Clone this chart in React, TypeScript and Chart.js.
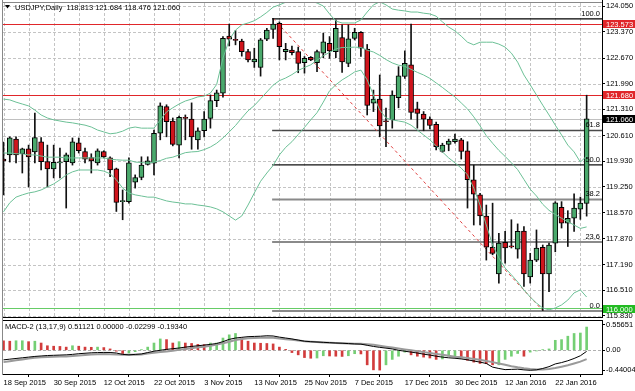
import React, { useEffect, useRef } from 'react';
import { Chart, registerables } from 'chart.js';
Chart.register(...registerables);

// ---------- DATA ----------
const dates = [
  '18 Sep 2015','21 Sep 2015','22 Sep 2015','23 Sep 2015','24 Sep 2015','25 Sep 2015','28 Sep 2015','29 Sep 2015','30 Sep 2015',
  '1 Oct 2015','2 Oct 2015','5 Oct 2015','6 Oct 2015','7 Oct 2015','8 Oct 2015','9 Oct 2015','12 Oct 2015',
  '13 Oct 2015','14 Oct 2015','15 Oct 2015','16 Oct 2015','19 Oct 2015','20 Oct 2015','21 Oct 2015','22 Oct 2015',
  '23 Oct 2015','26 Oct 2015','27 Oct 2015','28 Oct 2015','29 Oct 2015','30 Oct 2015','2 Nov 2015','3 Nov 2015',
  '4 Nov 2015','5 Nov 2015','6 Nov 2015','9 Nov 2015','10 Nov 2015','11 Nov 2015','12 Nov 2015','13 Nov 2015',
  '16 Nov 2015','17 Nov 2015','18 Nov 2015','19 Nov 2015','20 Nov 2015','23 Nov 2015','24 Nov 2015','25 Nov 2015',
  '26 Nov 2015','27 Nov 2015','30 Nov 2015','1 Dec 2015','2 Dec 2015','3 Dec 2015','4 Dec 2015','7 Dec 2015',
  '8 Dec 2015','9 Dec 2015','10 Dec 2015','11 Dec 2015','14 Dec 2015','15 Dec 2015','16 Dec 2015','17 Dec 2015',
  '18 Dec 2015','21 Dec 2015','22 Dec 2015','23 Dec 2015','24 Dec 2015','28 Dec 2015','29 Dec 2015','30 Dec 2015',
  '31 Dec 2015','4 Jan 2016','5 Jan 2016','6 Jan 2016','7 Jan 2016','8 Jan 2016','11 Jan 2016','12 Jan 2016',
  '13 Jan 2016','14 Jan 2016','15 Jan 2016','18 Jan 2016','19 Jan 2016','20 Jan 2016','21 Jan 2016','22 Jan 2016',
  '25 Jan 2016','26 Jan 2016','27 Jan 2016','28 Jan 2016','29 Jan 2016'
];

const opens = [
  119.99,120.10,120.52,120.13,120.26,120.18,120.45,119.92,119.73,119.89,
  119.92,119.89,120.42,120.19,120.03,119.89,120.19,120.02,119.73,118.86,
  118.86,119.38,119.50,119.85,119.88,120.68,121.38,121.00,120.36,121.09,
  121.05,120.50,120.74,121.07,121.54,121.74,123.25,123.15,123.12,122.84,
  122.57,122.42,123.17,123.43,123.59,122.84,122.88,122.84,122.55,122.69,
  122.55,122.80,123.06,122.84,123.21,122.53,123.19,123.35,122.91,121.47,
  121.58,120.99,121.03,121.62,122.18,122.49,121.32,121.18,121.05,120.91,
  120.19,120.38,120.45,120.50,120.21,119.44,119.04,118.48,117.65,116.94,
  117.78,117.67,117.60,118.08,116.86,117.31,117.65,116.94,117.76,118.71,
  118.29,118.42,118.66,118.813
];
const highs = [
  120.44,120.58,120.58,120.28,120.36,121.21,120.56,120.36,120.36,120.28,
  120.15,120.55,120.55,120.28,120.13,120.26,120.21,120.05,119.75,119.17,
  120.02,119.57,120.05,120.05,120.76,121.48,121.43,121.08,121.13,121.16,
  121.48,120.82,121.25,121.69,121.82,123.24,123.57,123.40,123.17,122.90,
  122.93,123.19,123.46,123.724,123.63,123.06,122.99,122.96,122.71,122.71,
  122.88,123.33,123.24,123.68,123.55,123.55,123.46,123.37,123.03,121.82,
  122.22,121.34,121.80,122.44,122.86,123.573,121.50,121.25,121.11,120.97,
  120.41,120.52,120.65,120.54,120.45,119.83,119.08,118.77,118.82,118.02,
  118.07,118.38,118.27,118.20,117.49,118.11,117.71,117.76,118.86,118.86,
  118.62,119.07,118.98,121.684
];
const lows = [
  119.04,119.91,119.89,119.62,119.25,119.89,119.70,119.25,119.49,119.49,
  118.69,119.83,120.15,119.89,119.62,119.83,120.02,119.52,118.60,118.38,
  118.82,119.22,119.44,119.83,119.57,120.50,120.58,120.34,120.02,120.50,
  120.25,120.25,120.58,120.81,121.38,121.63,122.99,123.02,122.72,122.57,
  122.42,122.19,123.13,123.19,122.62,122.62,122.75,122.28,122.27,122.60,
  122.31,122.68,122.66,122.68,122.29,122.44,123.15,122.71,121.16,121.25,
  120.58,120.32,120.81,121.35,122.13,121.05,120.81,120.74,120.79,120.23,
  120.17,120.21,120.41,119.99,118.69,118.24,118.24,117.31,117.45,116.70,
  117.23,117.63,117.36,116.61,116.70,117.27,115.97,116.47,117.53,118.16,
  117.67,118.07,118.39,118.476
];
const closes = [
  119.94,120.55,120.10,120.26,120.05,120.56,119.92,119.73,119.90,119.90,
  120.10,120.45,120.21,119.99,119.94,120.21,120.05,119.70,118.84,118.87,
  119.89,119.50,119.83,119.94,120.67,121.40,120.98,120.38,121.10,121.07,
  120.58,120.74,121.05,121.54,121.75,123.19,123.17,123.14,122.84,122.62,
  122.64,123.15,123.41,123.57,122.97,122.90,122.81,122.53,122.66,122.62,
  122.84,123.10,122.86,123.46,122.57,123.18,123.35,122.93,121.41,121.58,
  120.87,120.98,121.69,122.20,122.53,121.23,121.20,121.05,120.88,120.32,
  120.36,120.47,120.52,120.19,119.44,119.06,118.48,117.65,117.49,117.76,
  117.63,117.66,118.07,116.94,117.31,117.63,116.94,117.71,118.83,118.29,
  118.42,118.69,118.82,121.06
];

const bbUpper = [
  121.58,121.56,121.50,121.45,121.40,121.29,121.16,121.08,121.03,121.00,
  120.97,120.95,120.92,120.89,120.84,120.76,120.71,120.66,120.68,120.73,
  120.81,120.84,120.81,120.81,120.81,121.03,121.24,121.35,121.45,121.53,
  121.58,121.64,121.66,121.74,121.97,122.67,123.15,123.41,123.55,123.60,
  123.66,123.76,123.88,124.02,124.08,124.15,124.29,124.26,124.24,124.18,
  124.13,124.05,123.84,123.65,123.60,123.60,123.60,123.68,123.89,124.08,
  124.16,124.08,123.97,123.94,123.92,123.89,123.89,123.86,123.84,123.78,
  123.63,123.49,123.39,123.25,123.09,123.02,123.09,123.09,123.09,123.04,
  122.96,122.80,122.56,122.22,121.96,121.69,121.42,121.16,120.89,120.63,
  120.36,120.18,119.91,120.07
];
const bbMiddle = [
  120.15,120.15,120.13,120.13,120.10,120.10,120.07,120.04,120.04,120.04,
  120.02,120.02,120.02,120.02,120.02,120.02,120.02,119.99,119.97,119.96,
  119.96,119.91,119.90,119.88,119.91,119.95,120.01,120.04,120.10,120.16,
  120.18,120.19,120.24,120.31,120.41,120.55,120.71,120.88,121.08,121.27,
  121.41,121.59,121.77,121.95,122.07,122.14,122.23,122.34,122.42,122.49,
  122.61,122.73,122.82,122.91,122.95,122.95,122.96,122.95,122.88,122.83,
  122.74,122.63,122.54,122.48,122.45,122.37,122.29,122.22,122.13,122.01,
  121.89,121.76,121.64,121.48,121.32,121.11,120.87,120.61,120.41,120.22,
  120.06,119.89,119.71,119.45,119.19,119.01,118.79,118.63,118.52,118.42,
  118.33,118.24,118.15,118.19
];
const bbLower = [
  118.59,118.83,118.98,119.04,119.09,119.12,119.17,119.25,119.33,119.44,
  119.57,119.65,119.70,119.70,119.70,119.70,119.67,119.60,119.44,119.22,
  119.09,119.04,119.01,118.98,118.98,118.93,118.88,118.85,118.83,118.80,
  118.80,118.77,118.75,118.72,118.67,118.59,118.48,118.37,118.48,118.77,
  119.09,119.40,119.62,119.82,120.10,120.30,120.45,120.64,120.83,121.03,
  121.22,121.50,121.80,121.96,122.09,122.19,122.30,122.35,122.09,121.69,
  121.29,121.08,121.03,121.00,120.97,120.89,120.76,120.63,120.50,120.34,
  120.18,120.02,119.89,119.75,119.57,119.22,118.77,118.24,117.71,117.37,
  117.10,116.92,116.73,116.52,116.33,116.17,116.04,115.99,116.04,116.12,
  116.25,116.44,116.52,116.33
];

const macdMain = [
  -0.210,-0.195,-0.180,-0.165,-0.150,-0.135,-0.125,-0.115,-0.110,-0.105,
  -0.100,-0.090,-0.075,-0.065,-0.055,-0.050,-0.047,-0.048,-0.060,-0.090,
  -0.100,-0.090,-0.080,-0.050,-0.020,0.000,0.020,0.035,0.050,0.070,
  0.085,0.100,0.115,0.130,0.150,0.190,0.240,0.270,0.285,0.300,
  0.305,0.310,0.320,0.315,0.290,0.270,0.250,0.225,0.200,0.190,
  0.182,0.175,0.168,0.160,0.155,0.148,0.140,0.135,0.110,0.085,
  0.065,0.048,0.030,0.000,-0.020,-0.040,-0.060,-0.085,-0.105,-0.130,
  -0.150,-0.165,-0.175,-0.190,-0.210,-0.235,-0.260,-0.290,-0.370,-0.400,
  -0.425,-0.420,-0.415,-0.430,-0.440,-0.430,-0.400,-0.360,-0.300,-0.270,
  -0.230,-0.180,-0.120,-0.023
];
const macdSignal = [
  -0.260,-0.240,-0.220,-0.200,-0.180,-0.165,-0.155,-0.148,-0.142,-0.138,
  -0.134,-0.125,-0.115,-0.104,-0.094,-0.085,-0.080,-0.085,-0.095,-0.100,
  -0.100,-0.099,-0.090,-0.070,-0.055,-0.040,-0.026,-0.010,0.010,0.026,
  0.045,0.065,0.080,0.100,0.125,0.155,0.190,0.225,0.250,0.265,
  0.272,0.278,0.280,0.275,0.262,0.245,0.230,0.215,0.200,0.190,
  0.180,0.172,0.165,0.160,0.155,0.150,0.146,0.142,0.135,0.120,
  0.100,0.080,0.060,0.040,0.020,0.000,-0.020,-0.040,-0.060,-0.080,
  -0.100,-0.120,-0.140,-0.155,-0.170,-0.190,-0.210,-0.235,-0.260,-0.290,
  -0.320,-0.350,-0.375,-0.395,-0.410,-0.420,-0.420,-0.410,-0.390,-0.360,
  -0.330,-0.290,-0.250,-0.1934
];
const macdHist = [
  0.21,0.20,0.21,0.21,0.19,0.20,0.16,0.10,0.09,0.085,
  0.07,0.10,0.09,0.07,0.066,0.07,0.06,0.03,-0.02,-0.08,
  -0.06,-0.03,0.015,0.07,0.16,0.25,0.235,0.16,0.19,0.16,
  0.15,0.13,0.125,0.16,0.16,0.27,0.34,0.37,0.27,0.20,
  0.16,0.155,0.15,0.14,0.07,0.02,-0.05,-0.10,-0.16,-0.175,
  -0.17,-0.12,-0.125,-0.13,-0.135,-0.12,-0.075,-0.08,-0.32,-0.43,
  -0.435,-0.32,-0.20,-0.13,-0.04,-0.10,-0.13,-0.15,-0.17,-0.20,
  -0.19,-0.13,-0.12,-0.17,-0.22,-0.26,-0.29,-0.295,-0.32,-0.32,
  -0.20,-0.13,-0.07,-0.13,-0.04,-0.015,0.015,0.03,0.22,0.235,
  0.31,0.37,0.38,0.51121
];

const priceTicks = [124.05,123.37,122.67,121.99,121.31,120.61,119.93,119.25,118.57,117.87,117.19,116.51,115.83];
const macdTicks = [0.55651, 0, -0.44004];
const dateTickBars = [0, 8, 16, 24, 32, 40, 48, 56, 64, 72, 80, 88];
const fibAnchorBars = [43, 86];
const fibHigh = 123.724;
const fibLow = 115.97;
const fibRatios = [1, 0.618, 0.5, 0.382, 0.236, 0];
const fibNames = ['100.0', '61.8', '50.0', '38.2', '23.6', '0.0'];
const redLevels = [123.573, 121.68];
const greenLevel = 116.0;
const lastPrice = 121.06;
const mainTitle = 'USDJPY,Daily  118.813 121.684 118.476 121.060';
const macdTitle = 'MACD-2 (13,17,9) 0.51121 0.00000 -0.02299 -0.19340';

// ---------- STYLE ----------
const FONT_FAMILY = '"Liberation Sans", Arial, sans-serif';
const FONT_SIZE = 7.5;
const GREEN = '#4aa96c';
const RED = '#d0141c';
const BAND = '#6cc096';
const X_MIN = -0.08;
const X_MAX = 95.45;

function hline(ctx: CanvasRenderingContext2D, x1: number, x2: number, y: number) {
  ctx.beginPath(); ctx.moveTo(x1, y); ctx.lineTo(x2, y); ctx.stroke();
}
function vline(ctx: CanvasRenderingContext2D, x: number, y1: number, y2: number) {
  ctx.beginPath(); ctx.moveTo(x, y1); ctx.lineTo(x, y2); ctx.stroke();
}

export default function App() {
  const ref1 = useRef<HTMLCanvasElement>(null);
  const ref2 = useRef<HTMLCanvasElement>(null);

  useEffect(() => {
    document.body.style.margin = '0';
    const idx = dates.map((_, i) => i);
    const up = idx.map(i => closes[i] >= opens[i]);
    const font = { family: FONT_FAMILY, size: FONT_SIZE };

    const xScale = (display: boolean) => ({
      type: 'linear' as const,
      min: X_MIN,
      max: X_MAX,
      offset: false,
      display,
      grid: { display, drawOnChartArea: false, drawTicks: true, tickLength: 3, color: '#000' },
      border: { display: false },
      afterBuildTicks: (s: any) => { s.ticks = dateTickBars.map(v => ({ value: v })); },
      afterFit: (s: any) => { s.height = display ? 17 : 0; s.paddingLeft = 0; s.paddingRight = 0; },
      ticks: {
        font, color: '#000', align: 'start' as const, maxRotation: 0, autoSkip: false, padding: 1,
        callback: (v: any) => dates[v as number] ?? '',
      },
    });

    const mainDecor = {
      id: 'mainDecor',
      beforeDatasetsDraw(chart: any) {
        const { ctx, chartArea: a, scales: { x, y } } = chart;
        ctx.save();
        ctx.lineWidth = 1;
        ctx.strokeStyle = '#c4c4c4';
        ctx.setLineDash([3, 2]);
        priceTicks.forEach(v => hline(ctx, a.left, a.right, Math.round(y.getPixelForValue(v)) + 0.5));
        for (let b = 0; b <= 95; b += 4) vline(ctx, Math.round(x.getPixelForValue(b)) + 0.5, a.top, a.bottom);
        ctx.setLineDash([]);
        ctx.strokeStyle = '#c0c0c0';
        hline(ctx, a.left, a.right, Math.round(y.getPixelForValue(lastPrice)) + 0.5);
        ctx.strokeStyle = '#e0262a';
        redLevels.forEach(v => hline(ctx, a.left, a.right, Math.round(y.getPixelForValue(v)) + 0.5));
        const fx = x.getPixelForValue(fibAnchorBars[0]) - 1;
        const styles = [
          ['#000', 1.3], ['#4a4a4a', 1.6], ['#111', 1.3], ['#8a8a8a', 2], ['#8a8a8a', 2], ['#8a8a8a', 2],
        ];
        fibRatios.forEach((r, k) => {
          const v = fibLow + (fibHigh - fibLow) * r;
          ctx.strokeStyle = styles[k][0] as string;
          ctx.lineWidth = styles[k][1] as number;
          hline(ctx, fx, a.right, y.getPixelForValue(v) + 0.5);
        });
        ctx.lineWidth = 1;
        ctx.strokeStyle = '#66cc66';
        hline(ctx, a.left, a.right, Math.round(y.getPixelForValue(greenLevel)) - 0.5);
        ctx.strokeStyle = '#e04040';
        ctx.setLineDash([3, 3]);
        ctx.beginPath();
        ctx.moveTo(x.getPixelForValue(fibAnchorBars[0]), y.getPixelForValue(fibHigh));
        ctx.lineTo(x.getPixelForValue(fibAnchorBars[1]), y.getPixelForValue(fibLow));
        ctx.stroke();
        ctx.restore();
      },
      afterDraw(chart: any) {
        const { ctx, chartArea: a, scales: { y } } = chart;
        ctx.save();
        ctx.font = `${FONT_SIZE}px ${FONT_FAMILY}`;
        ctx.fillStyle = '#000';
        ctx.textAlign = 'right';
        ctx.textBaseline = 'bottom';
        fibRatios.forEach((r, k) => {
          const v = fibLow + (fibHigh - fibLow) * r;
          ctx.fillText(fibNames[k], a.right - 2, y.getPixelForValue(v) - 1);
        });
        ctx.textAlign = 'left';
        ctx.textBaseline = 'middle';
        const boxes: [number, string][] = [
          [redLevels[0], '#e0262a'], [redLevels[1], '#e0262a'], [lastPrice, '#000'], [greenLevel, '#22bb22'],
        ];
        boxes.forEach(([v, c]) => {
          const py = Math.round(y.getPixelForValue(v));
          ctx.fillStyle = c;
          ctx.fillRect(a.right + 1, py - 4, 33, 8);
          ctx.fillStyle = '#fff';
          ctx.fillText(v.toFixed(3), a.right + 4, py + 0.5);
        });
        ctx.strokeStyle = '#000';
        ctx.lineWidth = 1;
        vline(ctx, a.right + 0.5, 0, a.bottom + 1);
        hline(ctx, a.left - 1, a.right, a.bottom + 0.5);
        ctx.strokeStyle = '#888';
        hline(ctx, a.left - 1, a.right, a.top - 0.5);
        vline(ctx, a.left - 0.5, 0, a.bottom + 1);
        ctx.fillStyle = '#000';
        ctx.beginPath();
        ctx.moveTo(5, 5); ctx.lineTo(10, 5); ctx.lineTo(7.5, 8.5); ctx.closePath(); ctx.fill();
        ctx.textBaseline = 'middle';
        ctx.fillText(mainTitle, 15, 8);
        ctx.restore();
      },
    };

    const c1 = new Chart(ref1.current!, {
      type: 'bar',
      data: {
        datasets: [
          { type: 'line', data: idx.map(i => ({ x: i, y: bbUpper[i] })), borderColor: BAND, borderWidth: 1, pointRadius: 0, order: 0 } as any,
          { type: 'line', data: idx.map(i => ({ x: i, y: bbMiddle[i] })), borderColor: BAND, borderWidth: 1, pointRadius: 0, order: 0 } as any,
          { type: 'line', data: idx.map(i => ({ x: i, y: bbLower[i] })), borderColor: BAND, borderWidth: 1, pointRadius: 0, order: 0 } as any,
          {
            type: 'bar', data: idx.map(i => ({ x: i, y: [opens[i], closes[i]] })),
            backgroundColor: idx.map(i => (up[i] ? GREEN : RED)), borderColor: '#000', borderWidth: 1,
            borderSkipped: false, barThickness: 5, grouped: false, minBarLength: 1, order: 1,
          } as any,
          {
            type: 'bar', data: idx.map(i => ({ x: i, y: [lows[i], highs[i]] })),
            backgroundColor: '#111', barThickness: 1, grouped: false, order: 2,
          } as any,
        ],
      },
      options: {
        responsive: false,
        animation: false,
        events: [],
        layout: { padding: { left: 3, top: 3, right: 0, bottom: 1 } },
        plugins: { legend: { display: false }, tooltip: { enabled: false } },
        scales: {
          x: xScale(false) as any,
          y: {
            type: 'linear', position: 'right', min: 115.80, max: 124.13,
            grid: { drawOnChartArea: false, drawTicks: true, tickLength: 3, color: '#000' },
            border: { display: false },
            afterBuildTicks: (s: any) => { s.ticks = priceTicks.map(v => ({ value: v })); },
            afterFit: (s: any) => { s.width = 33; s.paddingTop = 0; s.paddingBottom = 0; },
            ticks: { font, color: '#000', padding: 1, callback: (v: any) => Number(v).toFixed(3) },
          } as any,
        },
      },
      plugins: [mainDecor],
    });

    const macdDecor = {
      id: 'macdDecor',
      beforeDatasetsDraw(chart: any) {
        const { ctx, chartArea: a, scales: { y } } = chart;
        ctx.save();
        ctx.strokeStyle = '#b0b0b0';
        ctx.lineWidth = 1;
        ctx.setLineDash([3, 2]);
        hline(ctx, a.left, a.right, Math.round(y.getPixelForValue(0)) + 0.5);
        ctx.restore();
      },
      afterDraw(chart: any) {
        const { ctx, chartArea: a } = chart;
        ctx.save();
        ctx.strokeStyle = '#000';
        ctx.lineWidth = 1;
        hline(ctx, a.left - 1, a.right, a.top - 0.5);
        hline(ctx, a.left - 1, a.right, a.bottom + 0.5);
        vline(ctx, a.right + 0.5, a.top - 1, a.bottom + 1);
        ctx.strokeStyle = '#888';
        vline(ctx, a.left - 0.5, 0, a.bottom + 1);
        ctx.fillStyle = '#000';
        ctx.font = `${FONT_SIZE}px ${FONT_FAMILY}`;
        ctx.textBaseline = 'middle';
        ctx.textAlign = 'left';
        ctx.fillText(macdTitle, 5, a.top + 6);
        ctx.restore();
      },
    };

    const c2 = new Chart(ref2.current!, {
      type: 'bar',
      data: {
        datasets: [
          { type: 'line', data: idx.map(i => ({ x: i, y: macdMain[i] })), borderColor: '#000', borderWidth: 1, pointRadius: 0, order: 0 } as any,
          { type: 'line', data: idx.map(i => ({ x: i, y: macdSignal[i] })), borderColor: '#9a9a9a', borderWidth: 2, pointRadius: 0, order: 1 } as any,
          {
            type: 'bar', data: idx.map(i => ({ x: i, y: macdHist[i] })),
            backgroundColor: idx.map(i => (i > 0 && macdHist[i] >= macdHist[i - 1] ? '#74cf74' : '#d23c3c')),
            barThickness: 2, grouped: false, order: 2,
          } as any,
        ],
      },
      options: {
        responsive: false,
        animation: false,
        events: [],
        layout: { padding: { left: 3, top: 3, right: 0, bottom: 0 } },
        plugins: { legend: { display: false }, tooltip: { enabled: false } },
        scales: {
          x: xScale(true) as any,
          y: {
            type: 'linear', position: 'right', min: -0.5214, max: 0.6445,
            grid: { drawOnChartArea: false, drawTicks: true, tickLength: 3, color: '#000' },
            border: { display: false },
            afterBuildTicks: (s: any) => { s.ticks = macdTicks.map(v => ({ value: v })); },
            afterFit: (s: any) => { s.width = 33; s.paddingTop = 0; s.paddingBottom = 0; },
            ticks: { font, color: '#000', padding: 1, callback: (v: any) => (Number(v) === 0 ? '0.00' : String(v)) },
          } as any,
        },
      },
      plugins: [macdDecor],
    });

    return () => { c1.destroy(); c2.destroy(); };
  }, []);

  return (
    <div style={{ position: 'absolute', left: 0, top: 0, width: 635, height: 391, background: '#fff' }}>
      <canvas ref={ref1} width={635} height={318} style={{ position: 'absolute', left: 0, top: 0, display: 'block' }} />
      <canvas ref={ref2} width={635} height={73} style={{ position: 'absolute', left: 0, top: 318, display: 'block' }} />
    </div>
  );
}
